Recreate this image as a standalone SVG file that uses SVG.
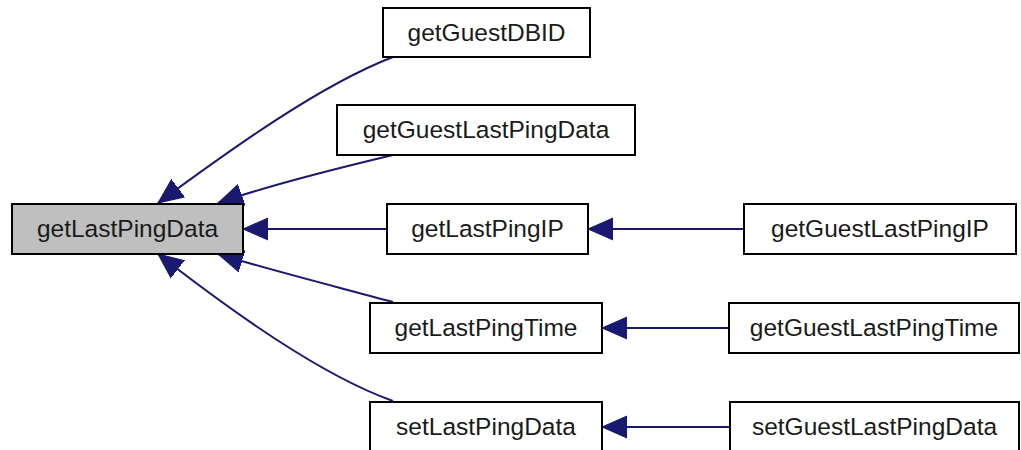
<svg xmlns="http://www.w3.org/2000/svg" width="1021" height="450" viewBox="0 0 1021 450">
<style>
.box{fill:#ffffff;stroke:#000000;stroke-width:2}
.main{fill:#bfbfbf;stroke:#000000;stroke-width:2}
.lbl{font-family:"Liberation Sans",Arial,sans-serif;font-size:24.5px;fill:#1a1a1a;text-anchor:middle}
.edge{fill:none;stroke:#191970;stroke-width:2;marker-end:url(#ah)}
</style>
<defs>
<marker id="ah" viewBox="0 -12 26 24" refX="25" refY="0" markerWidth="26" markerHeight="24" markerUnits="userSpaceOnUse" orient="auto">
<path d="M0,-11 L25,0 L0,11 Z" fill="#191970" stroke="#191970" stroke-width="1"/>
</marker>
</defs>
<rect width="1021" height="450" fill="#ffffff"/>
<g id="connectors">
<path class="edge" d="M393,57 C320,85 230,150 158,203"/>
<path class="edge" d="M393,155 C330,170 270,185 218,203"/>
<path class="edge" d="M387,229 L243,229"/>
<path class="edge" d="M393,302 C330,285 270,270 218,254"/>
<path class="edge" d="M393,401 C320,375 230,310 158,254"/>
<path class="edge" d="M744,229 L588,229"/>
<path class="edge" d="M729,328 L602,328"/>
<path class="edge" d="M730,427 L602,427"/>
</g>
<g id="getLastPingData">
<rect class="main" x="12" y="204" width="231" height="50"/>
<text class="lbl" x="127.5" y="237">getLastPingData</text>
</g>
<g id="getGuestDBID">
<rect class="box" x="383" y="8" width="207" height="49"/>
<text class="lbl" x="486.5" y="41">getGuestDBID</text>
</g>
<g id="getGuestLastPingData">
<rect class="box" x="337" y="105" width="298" height="50"/>
<text class="lbl" x="486" y="138">getGuestLastPingData</text>
</g>
<g id="getLastPingIP">
<rect class="box" x="387" y="204" width="201" height="50"/>
<text class="lbl" x="487.5" y="237">getLastPingIP</text>
</g>
<g id="getLastPingTime">
<rect class="box" x="370" y="303" width="232" height="50"/>
<text class="lbl" x="486" y="336">getLastPingTime</text>
</g>
<g id="setLastPingData">
<rect class="box" x="370" y="402" width="232" height="50"/>
<text class="lbl" x="486" y="435">setLastPingData</text>
</g>
<g id="getGuestLastPingIP">
<rect class="box" x="744" y="204" width="272" height="50"/>
<text class="lbl" x="880" y="237">getGuestLastPingIP</text>
</g>
<g id="getGuestLastPingTime">
<rect class="box" x="729" y="303" width="290" height="50"/>
<text class="lbl" x="874" y="336">getGuestLastPingTime</text>
</g>
<g id="setGuestLastPingData">
<rect class="box" x="730" y="402" width="289" height="50"/>
<text class="lbl" x="874.5" y="435">setGuestLastPingData</text>
</g>
</svg>
